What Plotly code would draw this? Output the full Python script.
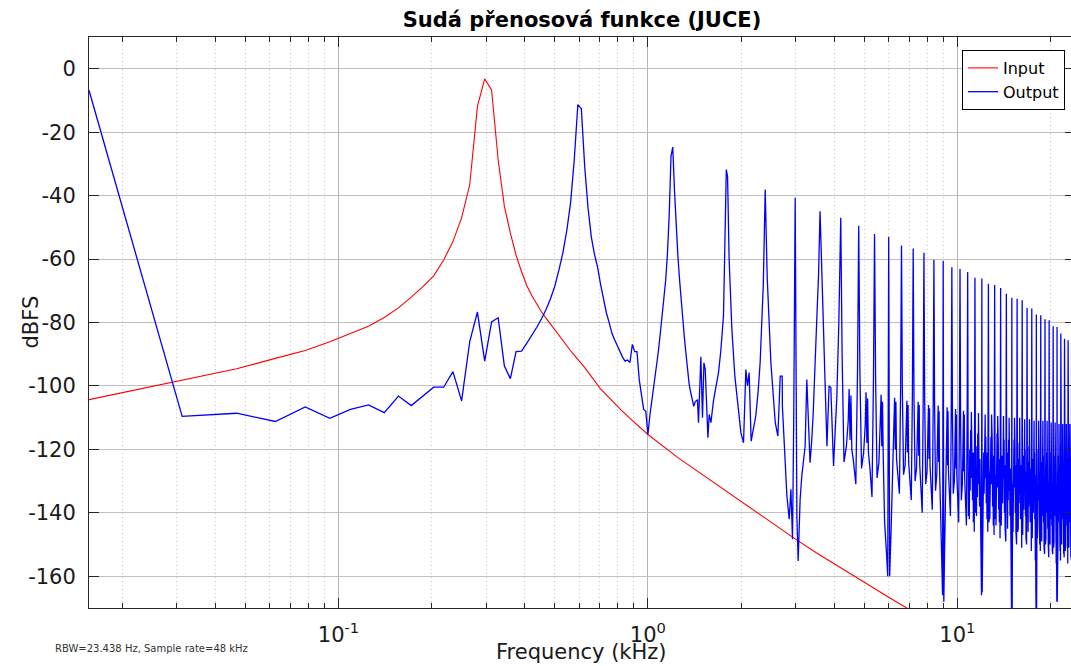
import math
import plotly.graph_objects as go

# ---------------- data ----------------
bin_khz = 0.015625          # FFT bin spacing in kHz (48 kHz / 3072)

# Input (red): FFT bins 1..40, then sparse readings of the smooth tail
red_bins_db = [-104.3, -98.3, -94.6, -91.3, -88.8, -86.1, -83.6, -81.2, -78.4, -75.4,
               -72.0, -68.7, -65.3, -60.3, -54.5, -47.0, -36.5, -11.9, -3.2, -6.7,
               -28.7, -43.4, -51.8, -58.8, -64.0, -68.4, -71.6, -74.3, -76.7, -78.6,
               -80.5, -82.3, -84.1, -85.8, -87.4, -88.9, -90.3, -91.7, -93.0, -94.2]
red_tail_khz = [0.7031, 0.75, 0.8125, 0.875, 0.9375, 1.0, 1.25, 1.5, 2.0, 2.5, 3.0,
                3.5, 4.2, 5.0, 6.0, 7.0, 8.0, 10.0, 24.0]
red_tail_db = [-100.9, -103.8, -107.2, -110.2, -112.9, -115.3, -122.6, -128.0, -136.5,
               -143.0, -148.3, -152.6, -157.4, -161.9, -166.6, -170.5, -174.2, -180.0, -200.0]

# Output (blue): FFT bins 1..64
blue_bins_db = [-6.8, -109.6, -108.6, -111.2, -106.6, -110.2, -107.4, -106.0, -108.4, -103.2,
                -106.2, -103.2, -100.4, -100.4, -95.5, -104.7, -86.0, -76.7, -92.2, -79.8,
                -78.5, -93.7, -97.7, -89.2, -89.0, -86.5, -84.0, -81.5, -78.8, -75.9,
                -72.5, -68.6, -63.5, -58.0, -51.0, -42.3, -28.7, -11.3, -12.6, -31.0,
                -44.0, -53.0, -58.5, -62.5, -68.0, -72.8, -77.0, -80.1, -83.5, -85.5,
                -87.5, -89.5, -90.9, -92.2, -91.8, -92.6, -86.9, -89.2, -89.2, -98.0,
                -103.5, -107.4, -108.0, -115.3]

# Output (blue): readings between 1 kHz and 4.2 kHz
blue_mid_khz = [1.0156, 1.0313, 1.0469, 1.0625, 1.0781, 1.0938, 1.1094, 1.125, 1.1406, 1.1563,
                1.1719, 1.1875, 1.2031, 1.2188, 1.2344, 1.25, 1.2656, 1.2813, 1.2969, 1.3125,
                1.3281, 1.3438, 1.3594, 1.375, 1.3906, 1.4063, 1.4219, 1.446, 1.457, 1.483,
                1.501, 1.517, 1.532, 1.563, 1.578, 1.598, 1.63, 1.66, 1.691, 1.72,
                1.755, 1.792, 1.809, 1.83, 1.868, 1.91, 1.963, 1.998, 2.037, 2.073,
                2.098, 2.124, 2.156, 2.193, 2.232, 2.27, 2.305, 2.36, 2.394, 2.43,
                2.497, 2.58, 2.63, 2.677, 2.717, 2.72, 2.758, 2.813, 2.862, 2.898,
                2.933, 2.96, 2.992, 3.01, 3.03, 3.059, 3.104, 3.143, 3.222, 3.262,
                3.3, 3.342, 3.38, 3.42, 3.51, 3.56, 3.6, 3.64, 3.68, 3.74,
                3.79, 3.85, 3.9, 3.98, 4.08, 4.14, 4.18]
blue_mid_db = [-109.0, -104.5, -100.0, -95.0, -90.0, -84.5, -79.0, -73.5, -67.0, -58.5,
               -46.0, -27.6, -24.7, -38.5, -50.0, -59.0, -66.5, -73.5, -79.5, -85.0,
               -90.0, -95.5, -99.5, -102.0, -104.0, -106.4, -105.0, -104.3, -111.6, -90.8,
               -110.0, -92.7, -94.8, -116.3, -109.0, -111.6, -104.5, -100.0, -95.8, -89.0,
               -77.8, -31.8, -34.0, -60.0, -82.2, -97.0, -107.4, -114.8, -117.9, -94.8,
               -100.0, -95.8, -117.4, -113.6, -109.4, -102.0, -92.7, -68.0, -38.1, -66.0,
               -92.7, -111.6, -115.8, -96.9, -96.9, -106.3, -120.0, -134.7, -142.0, -132.6,
               -148.3, -110.0, -40.7, -90.0, -141.0, -155.2, -135.7, -128.4, -119.0, -98.0,
               -108.4, -124.2, -118.0, -109.0, -80.0, -65.0, -44.9, -62.0, -71.7, -100.0,
               -119.0, -100.0, -100.5, -125.2, -103.2, -80.0, -55.0]

# Output (blue) above 4.2 kHz: one row per harmonic interval (n*0.6 kHz .. (n+1)*0.6 kHz),
# values read at the relative positions of the row's grid
harm_khz = 0.6

# harmonics 7..17 (4.2 .. 10.2 kHz)
rel_a = [0.0, 0.07, 0.17, 0.3, 0.4, 0.45, 0.5, 0.55, 0.6, 0.7, 0.83, 0.93]
first_a = 7
blue_a_db = [
    [-47.0, -90, -124, -119, -111, -101.0, -117, -103, -120, -124, -131, -95],     # 4.2
    [-49.5, -95, -126, -121, -112, -102.0, -118, -104, -121, -126, -135, -97],     # 4.8
    [-52.1, -97, -129, -124, -113, -102.8, -119, -105, -122, -143, -152, -160],    # 5.4
    [-53.0, -160, -147, -127, -114, -103.7, -120, -105, -123, -128, -134, -100],   # 6.0
    [-55.7, -102, -128, -125, -114, -104.7, -121, -106, -124, -129, -136, -102],   # 6.6
    [-56.7, -103, -130, -126, -115, -105.0, -122, -106, -125, -131, -140, -104],   # 7.2
    [-58.0, -104, -131, -127, -115, -106.0, -123, -107, -125, -132, -139, -105],   # 7.8
    [-60.2, -106, -133, -128, -116, -106.2, -124, -108, -126, -140, -152, -166],   # 8.4
    [-60.5, -168, -150, -128, -116, -106.7, -125, -108, -127, -133, -141, -107],   # 9.0
    [-62.6, -108, -134, -130, -117, -107.3, -126, -109, -128, -134, -143, -108],   # 9.6
    [-63.1, -109, -136, -131, -117, -107.8, -127, -109, -129, -135, -144, -109],   # 10.2
]

# harmonics 18..39 (10.8 .. 23.4 kHz), denser readings
rel_b = [0.0, 0.05, 0.1, 0.16, 0.22, 0.28, 0.34, 0.4, 0.45, 0.5, 0.55, 0.6,
         0.66, 0.72, 0.78, 0.84, 0.9, 0.95]
first_b = 18
blue_b_db = [
    [-64.1, -114, -141, -127, -142, -120, -133, -114, -129, -108.2, -127, -116, -136, -121, -143, -121, -146, -112],  # 10.8
    [-65.9, -115, -140, -126, -141, -119, -135, -115, -131, -108.5, -128, -117, -138, -123, -150, -140, -158, -166],  # 11.4
    [-66.1, -165, -155, -130, -143, -121, -134, -115, -130, -109.0, -129, -116, -137, -122, -142, -121, -146, -113],  # 12.0
    [-67.8, -116, -143, -127, -142, -120, -136, -116, -131, -109.0, -128, -117, -138, -123, -144, -122, -147, -114],  # 12.6
    [-68.2, -117, -142, -128, -144, -121, -135, -115, -132, -109.5, -130, -118, -139, -124, -143, -123, -148, -115],  # 13.2
    [-69.1, -118, -144, -129, -143, -122, -137, -116, -131, -109.5, -129, -117, -140, -125, -145, -122, -149, -116],  # 13.8
    [-70.9, -119, -145, -128, -145, -121, -136, -117, -133, -110.0, -130, -118, -141, -126, -152, -145, -163, -172],  # 14.4
    [-72.2, -174, -158, -131, -146, -122, -138, -117, -132, -110.0, -131, -119, -140, -125, -146, -124, -150, -118],  # 15.0
    [-72.5, -119, -146, -130, -145, -123, -137, -118, -134, -110.0, -130, -119, -142, -126, -147, -125, -151, -118],  # 15.6
    [-73.0, -120, -147, -131, -147, -122, -139, -118, -133, -110.5, -132, -120, -141, -127, -148, -124, -150, -119],  # 16.2
    [-75.4, -121, -146, -132, -146, -124, -138, -119, -135, -110.5, -131, -120, -143, -128, -149, -126, -152, -120],  # 16.8
    [-75.6, -121, -148, -131, -147, -123, -140, -119, -134, -111.0, -133, -121, -142, -128, -155, -148, -165, -172],  # 17.4
    [-77.5, -174, -160, -133, -148, -125, -139, -120, -136, -111.0, -132, -121, -144, -129, -150, -127, -152, -121],  # 18.0
    [-77.7, -122, -148, -132, -149, -124, -141, -120, -135, -111.0, -134, -122, -143, -130, -151, -128, -153, -122],  # 18.6
    [-79.0, -123, -150, -134, -148, -125, -140, -121, -137, -111.0, -133, -122, -145, -130, -150, -129, -154, -122],  # 19.2
    [-79.3, -123, -149, -133, -150, -126, -142, -121, -136, -111.5, -135, -123, -144, -131, -152, -128, -153, -123],  # 19.8
    [-81.2, -124, -151, -135, -149, -125, -141, -122, -138, -111.5, -134, -123, -146, -132, -156, -150, -162, -168],  # 20.4
    [-81.4, -168, -158, -134, -151, -127, -143, -122, -137, -112.0, -136, -124, -145, -132, -152, -130, -155, -124],  # 21.0
    [-83.5, -125, -150, -136, -150, -126, -142, -123, -139, -112.0, -135, -124, -147, -133, -153, -131, -154, -125],  # 21.6
    [-85.1, -125, -152, -135, -152, -127, -144, -123, -138, -112.0, -137, -125, -146, -133, -151, -130, -156, -125],  # 22.2
    [-85.6, -126, -151, -137, -151, -128, -143, -124, -140, -112.0, -136, -125, -148, -134, -154, -132, -155, -126],  # 22.8
    [-86.5, -126, -153, -136, -153, -127, -145, -124, -139, -112.5, -138, -126, -147, -134, -153, -131, -157, -127],  # 23.4
]
blue_end_khz = 24.0
blue_end_db = -100.0

y_ticks = [-160, -140, -120, -100, -80, -60, -40, -20, 0]
x_major = [0.1, 1, 10]
x_major_text = ["10<sup>-1</sup>", "10<sup>0</sup>", "10<sup>1</sup>"]
x_minor = [0.02, 0.03, 0.04, 0.05, 0.06, 0.07, 0.08, 0.09,
           0.2, 0.3, 0.4, 0.5, 0.6, 0.7, 0.8, 0.9,
           2, 3, 4, 5, 6, 7, 8, 9, 20]

# ---------------- build series ----------------
red_x = [(i + 1) * bin_khz for i in range(len(red_bins_db))] + red_tail_khz
red_y = red_bins_db + red_tail_db

blue_x = [(i + 1) * bin_khz for i in range(len(blue_bins_db))] + blue_mid_khz
blue_y = blue_bins_db + blue_mid_db
for first, rel, table in ((first_a, rel_a, blue_a_db), (first_b, rel_b, blue_b_db)):
    for k, row in enumerate(table):
        n = first + k
        for r, v in zip(rel, row):
            blue_x.append((n + r) * harm_khz)
            blue_y.append(v)
blue_x.append(blue_end_khz)
blue_y.append(blue_end_db)

FONT = "DejaVu Sans"
AX = "#262626"
TXT = "#1a1a1a"

fig = go.Figure()
fig.add_trace(go.Scatter(x=red_x, y=red_y, mode="lines", name="Input",
                         line=dict(color="#ff0000", width=1.1)))
fig.add_trace(go.Scatter(x=blue_x, y=blue_y, mode="lines", name="Output",
                         line=dict(color="#0000ff", width=1.3)))

W, H = 1075, 666
plot_l, plot_t, plot_b = 89, 37, 608
plot_w = W - plot_l
plot_h = plot_b - plot_t
x_left = bin_khz
x_right = 24.0

fig.update_layout(
    width=W, height=H,
    margin=dict(l=plot_l, r=0, t=plot_t, b=H - plot_b),
    paper_bgcolor="white", plot_bgcolor="white",
    font=dict(family=FONT, size=21, color=TXT),
    title=dict(text="<b>Sudá přenosová funkce (JUCE)</b>", x=0.5, xref="paper",
               y=1 - 20 / H, yanchor="middle", xanchor="center",
               font=dict(family=FONT, size=21, color="#000000")),
    showlegend=True,
    legend=dict(x=(1065 - plot_l) / plot_w, y=1 - (50 - plot_t) / plot_h,
                xanchor="right", yanchor="top",
                bgcolor="white", bordercolor="#000000", borderwidth=1,
                font=dict(family=FONT, size=16, color="#000000"),
                itemwidth=30, tracegroupgap=0),
    xaxis=dict(type="log", range=[math.log10(x_left), math.log10(x_right)],
               tickmode="array", tickvals=x_major, ticktext=x_major_text,
               ticks="inside", ticklen=10, tickcolor=AX, tickwidth=1,
               showline=True, linecolor=AX, linewidth=1, mirror="ticks",
               showgrid=True, gridcolor="#b4b4b4", gridwidth=1,
               zeroline=False, ticklabelstandoff=8,
               tickfont=dict(family=FONT, size=21, color=TXT),
               minor=dict(tickmode="array", tickvals=x_minor, ticks="inside",
                          ticklen=5, tickcolor=AX, showgrid=True,
                          gridcolor="#c8c8c8", griddash="1px,3px", gridwidth=1)),
    yaxis=dict(range=[-170, 10], tickmode="array", tickvals=y_ticks,
               ticktext=[str(v) for v in y_ticks],
               ticks="inside", ticklen=10, tickcolor=AX, tickwidth=1,
               showline=True, linecolor=AX, linewidth=1, mirror="ticks",
               showgrid=True, gridcolor="#c0c0c0", gridwidth=1,
               zeroline=False, ticklabelstandoff=8,
               tickfont=dict(family=FONT, size=21, color=TXT)),
    annotations=[
        dict(text="dBFS", xref="paper", yref="paper", x=(30 - plot_l) / plot_w,
             y=0.5, xanchor="center", yanchor="middle", textangle=-90, showarrow=False,
             font=dict(family=FONT, size=21, color=TXT)),
        dict(text="Frequency (kHz)", xref="paper", yref="paper", x=(581 - plot_l) / plot_w,
             y=-(652 - plot_b) / plot_h, xanchor="center", yanchor="middle", showarrow=False,
             font=dict(family=FONT, size=21, color=TXT)),
        dict(text="RBW=23.438 Hz, Sample rate=48 kHz", xref="paper", yref="paper",
             x=(53 - plot_l) / plot_w, y=-(648 - plot_b) / plot_h,
             xanchor="left", yanchor="middle", showarrow=False,
             font=dict(family=FONT, size=10, color="#333333")),
    ],
)

post = ("document.body.style.margin='0px';"
        "document.body.style.overflow='hidden';"
        "document.documentElement.style.overflow='hidden';")
fig.write_html("out.html", post_script=post, config={"displayModeBar": False})
